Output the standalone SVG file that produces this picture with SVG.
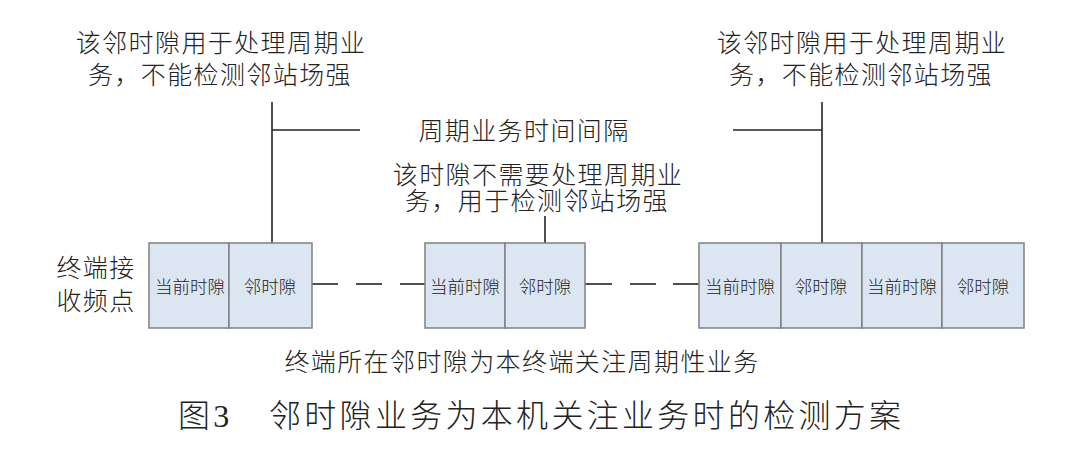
<svg xmlns="http://www.w3.org/2000/svg" width="1080" height="459" viewBox="0 0 1080 459">
<style>
text{font-family:"Liberation Serif","Noto Sans CJK SC",serif;fill:#222;font-weight:300;text-anchor:middle}
.lbl{font-size:25px;letter-spacing:1.4px}
.slot{font-size:17.5px}
.cap{font-size:32px;letter-spacing:3.3px;text-anchor:start}
.box{fill:#dce6f2;stroke:#808080;stroke-width:1.5}
.ln{stroke:#222;stroke-width:1.6;fill:none}
</style>
<rect width="1080" height="459" fill="#fff"/>
<g id="connectors">
<line class="ln" x1="272" y1="102" x2="272" y2="243"/>
<line class="ln" x1="272" y1="130" x2="360" y2="130"/>
<line class="ln" x1="822" y1="102" x2="822" y2="243"/>
<line class="ln" x1="733" y1="130" x2="822" y2="130"/>
<line class="ln" x1="545" y1="216" x2="545" y2="243"/>
<line class="ln" x1="312" y1="284" x2="338" y2="284"/>
<line class="ln" x1="356" y1="284" x2="382" y2="284"/>
<line class="ln" x1="400" y1="284" x2="425" y2="284"/>
<line class="ln" x1="585" y1="284" x2="612" y2="284"/>
<line class="ln" x1="630" y1="284" x2="656" y2="284"/>
<line class="ln" x1="673" y1="284" x2="699" y2="284"/>
</g>
<g id="frame1">
<rect class="box" x="149" y="243" width="80" height="85"/>
<rect class="box" x="229" y="243" width="83" height="85"/>
<text class="slot" x="190" y="293">当前时隙</text>
<text class="slot" x="270" y="293">邻时隙</text>
</g>
<g id="frame2">
<rect class="box" x="425" y="243" width="80" height="85"/>
<rect class="box" x="505" y="243" width="80" height="85"/>
<text class="slot" x="465" y="293">当前时隙</text>
<text class="slot" x="545" y="293">邻时隙</text>
</g>
<g id="frame3">
<rect class="box" x="699" y="243" width="82" height="85"/>
<rect class="box" x="781" y="243" width="81" height="85"/>
<rect class="box" x="862" y="243" width="80" height="85"/>
<rect class="box" x="942" y="243" width="82" height="85"/>
<text class="slot" x="740" y="293">当前时隙</text>
<text class="slot" x="821" y="293">邻时隙</text>
<text class="slot" x="902" y="293">当前时隙</text>
<text class="slot" x="983" y="293">邻时隙</text>
</g>
<g id="note-left">
<text class="lbl" x="221" y="52">该邻时隙用于处理周期业</text>
<text class="lbl" x="220" y="84">务，不能检测邻站场强</text>
</g>
<g id="note-right">
<text class="lbl" x="862" y="52">该邻时隙用于处理周期业</text>
<text class="lbl" x="861" y="84">务，不能检测邻站场强</text>
</g>
<g id="interval">
<text class="lbl" x="524" y="140">周期业务时间间隔</text>
</g>
<g id="note-mid">
<text class="lbl" x="538" y="184">该时隙不需要处理周期业</text>
<text class="lbl" x="537" y="210">务，用于检测邻站场强</text>
</g>
<g id="row-label">
<text class="lbl" x="96" y="277">终端接</text>
<text class="lbl" x="96" y="310">收频点</text>
</g>
<g id="footnote">
<text class="lbl" x="522" y="371">终端所在邻时隙为本终端关注周期性业务</text>
</g>
<g id="caption">
<text class="cap" y="427"><tspan x="178">图3</tspan><tspan x="269">邻时隙业务为本机关注业务时的检测方案</tspan></text>
</g>
</svg>
